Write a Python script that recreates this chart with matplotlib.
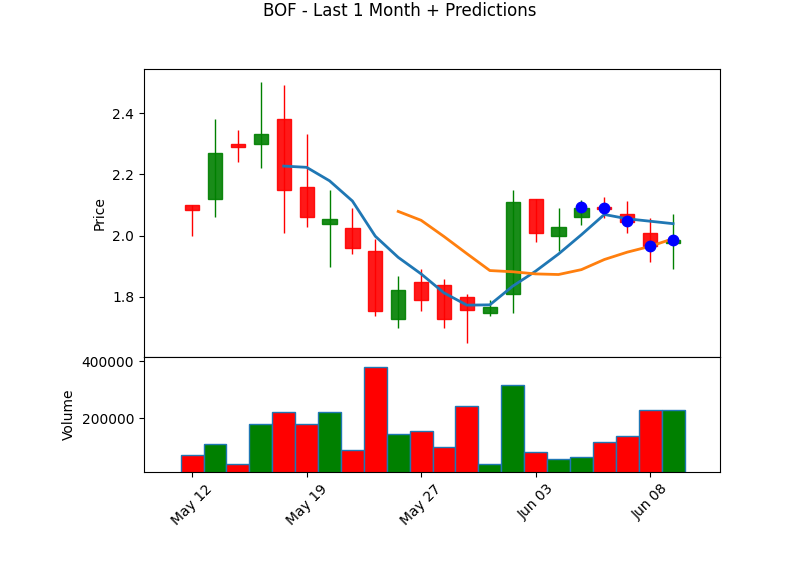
#!/usr/bin/env python3

import numpy as np
import matplotlib.pyplot as plt

# Daily candles, last month plus predicted days (index based x axis).
dates = ['May 12', 'May 13', 'May 14', 'May 15', 'May 16', 'May 19', 'May 20',
         'May 21', 'May 22', 'May 23', 'May 27', 'May 28', 'May 29', 'May 30',
         'Jun 02', 'Jun 03', 'Jun 04', 'Jun 05', 'Jun 06', 'Jun 07', 'Jun 08',
         'Jun 09']
opens = [2.100, 2.120, 2.300, 2.298, 2.382, 2.160, 2.037, 2.026, 1.951, 1.727,
         1.850, 1.840, 1.801, 1.747, 1.810, 2.121, 1.998, 2.060, 2.094, 2.072,
         2.010, 1.976]
highs = [2.101, 2.381, 2.345, 2.501, 2.492, 2.332, 2.149, 2.091, 1.990, 1.868,
         1.891, 1.859, 1.810, 1.791, 2.149, 2.121, 2.090, 2.117, 2.125, 2.113,
         2.056, 2.071]
lows = [2.000, 2.062, 2.241, 2.222, 2.010, 2.029, 1.898, 1.941, 1.739, 1.700,
        1.755, 1.700, 1.650, 1.737, 1.748, 1.979, 1.949, 2.035, 2.056, 2.007,
        1.915, 1.891]
closes = [2.083, 2.271, 2.288, 2.333, 2.148, 2.060, 2.053, 1.959, 1.753, 1.822,
          1.789, 1.727, 1.756, 1.768, 2.111, 2.008, 2.029, 2.091, 2.088, 2.046,
          1.965, 1.987]
volumes = [71000, 109000, 39500, 179000, 221000, 179000, 221000, 88000, 378000,
           144000, 156000, 99000, 242000, 39500, 316000, 81000, 58000, 64000,
           116000, 137000, 231000, 231000]

# Moving averages (5 and 10 day), starting where enough days exist.
ma5 = [2.227, 2.223, 2.179, 2.113, 1.998, 1.929, 1.875, 1.813, 1.773, 1.774,
       1.835, 1.884, 1.940, 2.003, 2.069, 2.055, 2.047, 2.039]
ma10 = [2.079, 2.050, 1.997, 1.941, 1.886, 1.882, 1.875, 1.873, 1.889, 1.922,
        1.946, 1.965, 1.990]

# Predicted closes for the last days.
pred_close = [2.092, 2.090, 2.049, 1.967, 1.986]

n = len(dates)
x = np.arange(n)
up = np.array(closes) >= np.array(opens)
cols = ['green' if u else 'red' for u in up]

fig, (ax, axv) = plt.subplots(2, 1, figsize=(8, 5.75), sharex=True,
                              gridspec_kw={'height_ratios': [5, 2]})
fig.subplots_adjust(left=0.18, right=0.9, top=0.88, bottom=0.179, hspace=0)

# Candles: wicks then bodies.
ax.vlines(x, lows, highs, colors=cols, linewidth=1)
body_lo = np.minimum(opens, closes)
body_h = np.abs(np.array(closes) - np.array(opens))
ax.bar(x, body_h, width=0.62, bottom=body_lo, color=cols, edgecolor=cols,
       alpha=0.9)

ax.plot(x[n - len(ma5):], ma5, lw=2, color='tab:blue')
ax.plot(x[n - len(ma10):], ma10, lw=2, color='tab:orange')
ax.plot(x[n - len(pred_close):], pred_close, 'o', color='blue', ms=7.5)

ax.set_ylabel('Price')
ax.set_yticks([1.8, 2.0, 2.2, 2.4])
ax.set_ylim(1.604, 2.544)
ax.tick_params(axis='x', bottom=False, labelbottom=False)

# Volume
axv.bar(x, volumes, width=1.0, color=cols, edgecolor='tab:blue')
axv.set_ylabel('Volume')
axv.set_yticks([200000, 400000])
axv.set_yticklabels(['200000', '400000'])
axv.set_ylim(12600, 415000)

axv.set_xlim(-2.1, 23.05)
ticks = list(range(0, n, 5))
axv.set_xticks(ticks)
axv.set_xticklabels([dates[i] for i in ticks], rotation=45)

fig.suptitle('BOF - Last 1 Month + Predictions', y=0.996)
plt.savefig('out.png', dpi=100)
